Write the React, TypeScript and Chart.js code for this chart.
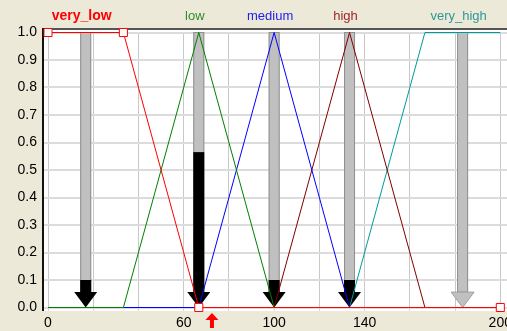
import React, { useEffect, useRef } from 'react';
import { Chart, registerables } from 'chart.js';

Chart.register(...registerables);

// ---- data ----
const termNames = ['very_low', 'low', 'medium', 'high', 'very_high'];
const lineColors = ['#FF0000', '#008000', '#0000FF', '#800000', '#009A9A'];
const labelColors = ['#FF0000', '#2E8B2E', '#2020F0', '#A02828', '#2E9898'];

const veryLowX = [0, 33.33, 66.67, 200];
const veryLowY = [1, 1, 0, 0];
const lowX = [0, 33.33, 66.67, 100];
const lowY = [0, 0, 1, 0];
const mediumX = [33.33, 66.67, 100, 133.33];
const mediumY = [0, 0, 1, 0];
const highX = [100, 133.33, 166.67];
const highY = [0, 1, 0];
const veryHighX = [133.33, 166.67, 200];
const veryHighY = [0, 1, 1];

const arrowX = [16.67, 66.67, 100, 133.33, 183.33];
const arrowLevel = [0.1, 0.565, 0.1, 0.1, 0];
const arrowHeadBase = 0.056;
const inputValue = 72.5;

const xTickLabels = [0, 60, 100, 140, 200];

const FONT = '"Liberation Sans", Arial, sans-serif';

const toPts = (xs: number[], ys: number[]) => xs.map((x, i) => ({ x, y: ys[i] }));

const decorPlugin = {
  id: 'decor',
  beforeDraw(chart: any) {
    const { ctx, width, height } = chart;
    ctx.save();
    ctx.fillStyle = '#ECE9D8';
    ctx.fillRect(0, 0, width, height);
    ctx.fillStyle = '#FFFFFF';
    ctx.fillRect(44, 29, width - 44, 282);
    ctx.restore();
  },
  beforeDatasetsDraw(chart: any) {
    const { ctx, chartArea, scales } = chart;
    const xs = scales.x;
    const ys = scales.y;
    ctx.save();
    // extend horizontal grid to right edge
    ctx.strokeStyle = '#DCDCDC';
    ctx.lineWidth = 2;
    ys.ticks.forEach((t: any) => {
      const py = Math.round(ys.getPixelForValue(t.value));
      ctx.beginPath();
      ctx.moveTo(chartArea.right, py);
      ctx.lineTo(chart.width, py);
      ctx.stroke();
    });
    // frame
    ctx.fillStyle = '#555555';
    ctx.fillRect(42, 28, chart.width - 42, 2);
    ctx.fillStyle = '#111111';
    ctx.fillRect(42, 28, 2, 283);

    // arrows
    const top = ys.getPixelForValue(1);
    const base = ys.getPixelForValue(arrowHeadBase);
    const tip = ys.getPixelForValue(0);
    arrowX.forEach((v, i) => {
      const cx = xs.getPixelForValue(v);
      const hw = 5.5;
      ctx.fillStyle = '#C0C0C0';
      ctx.fillRect(cx - hw, top, hw * 2, base - top);
      ctx.strokeStyle = '#909090';
      ctx.lineWidth = 1;
      ctx.strokeRect(cx - hw + 0.5, top, hw * 2 - 1, base - top);
      const lvl = arrowLevel[i];
      if (lvl > 0) {
        const ly = ys.getPixelForValue(lvl);
        ctx.fillStyle = '#000000';
        ctx.fillRect(cx - hw, ly, hw * 2, base - ly);
      }
      ctx.beginPath();
      ctx.moveTo(cx - 11.5, base);
      ctx.lineTo(cx + 11.5, base);
      ctx.lineTo(cx, tip);
      ctx.closePath();
      ctx.fillStyle = lvl > 0 ? '#000000' : '#C0C0C0';
      ctx.fill();
      if (lvl <= 0) {
        ctx.strokeStyle = '#A0A0A0';
        ctx.stroke();
      }
    });

    // input marker
    const mx = xs.getPixelForValue(inputValue);
    ctx.fillStyle = '#FF0000';
    ctx.beginPath();
    ctx.moveTo(mx, 313);
    ctx.lineTo(mx + 6.5, 320);
    ctx.lineTo(mx - 6.5, 320);
    ctx.closePath();
    ctx.fill();
    ctx.fillRect(mx - 2, 320, 4, 8);

    // term labels
    ctx.textAlign = 'center';
    ctx.textBaseline = 'middle';
    termNames.forEach((name, i) => {
      const cx = xs.getPixelForValue(arrowX[i]) - 4;
      ctx.font = (i === 0 ? 'bold 14px ' : '13px ') + FONT;
      ctx.fillStyle = labelColors[i];
      ctx.fillText(name, cx, 16);
    });
    ctx.restore();
  },
};

export default function App() {
  const ref = useRef<HTMLCanvasElement>(null);
  useEffect(() => {
    if (!ref.current) return;
    const mk = (i: number, data: any[], extra: any = {}) => ({
      label: termNames[i],
      data,
      borderColor: lineColors[i],
      borderWidth: 1,
      pointRadius: 0,
      tension: 0,
      fill: false,
      clip: false,
      ...extra,
    });
    const chart = new Chart(ref.current, {
      type: 'line',
      data: {
        datasets: [
          mk(0, toPts(veryLowX, veryLowY), {
            pointRadius: 5.7,
            pointStyle: 'rect',
            pointBackgroundColor: '#FFFFFF',
            pointBorderColor: '#FF0000',
            pointBorderWidth: 1,
          }),
          mk(1, toPts(lowX, lowY)),
          mk(2, toPts(mediumX, mediumY)),
          mk(3, toPts(highX, highY)),
          mk(4, toPts(veryHighX, veryHighY)),
        ],
      },
      options: {
        animation: false,
        responsive: false,
        events: [],
        layout: { padding: { top: 32.5, right: 5, left: 0, bottom: 0 } },
        plugins: { legend: { display: false }, tooltip: { enabled: false } },
        scales: {
          x: {
            type: 'linear',
            min: 0,
            max: 200,
            border: { display: false },
            grid: { color: '#C8C8C8', lineWidth: 1, drawTicks: true, tickLength: 3 },
            ticks: {
              stepSize: 20,
              autoSkip: false,
              maxRotation: 0,
              padding: 4,
              color: '#000000',
              font: { family: FONT, size: 14 },
              callback: (v: any) => (xTickLabels.includes(Number(v)) ? String(v) : ''),
            },
            afterFit: (s: any) => {
              s.height = 23.5;
              s.paddingLeft = 0;
              s.paddingRight = 0;
            },
          },
          y: {
            type: 'linear',
            min: 0,
            max: 1,
            border: { display: false },
            grid: { color: '#DCDCDC', lineWidth: 2, drawTicks: true, tickLength: 4 },
            ticks: {
              stepSize: 0.1,
              padding: 7,
              color: '#000000',
              font: { family: FONT, size: 14 },
              callback: (v: any) => Number(v).toFixed(1),
            },
            afterFit: (s: any) => {
              s.width = 48;
              s.paddingTop = 0;
              s.paddingBottom = 0;
            },
          },
        },
      },
      plugins: [decorPlugin],
    });
    return () => chart.destroy();
  }, []);
  return (
    <div style={{ position: 'fixed', left: 0, top: 0, width: 507, height: 331 }}>
      <canvas ref={ref} width={507} height={331} />
    </div>
  );
}
